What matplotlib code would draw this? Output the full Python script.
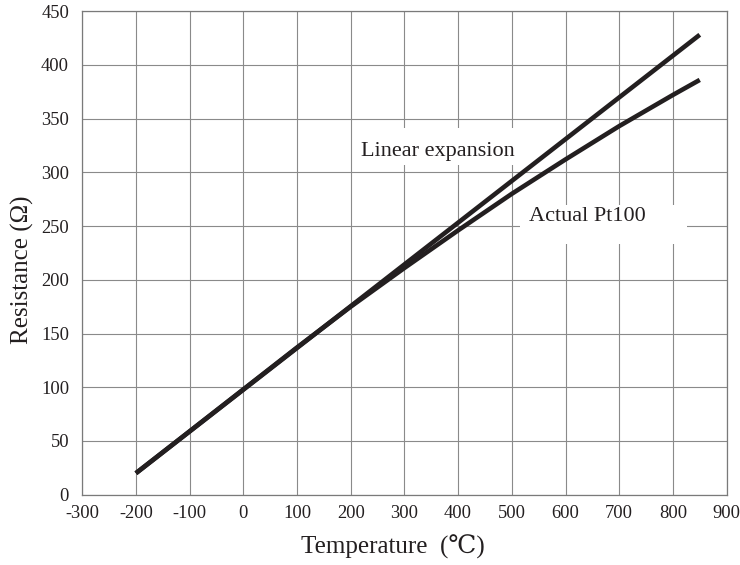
import matplotlib
matplotlib.use("Agg")
import matplotlib.pyplot as plt
from matplotlib.patches import Rectangle

# Data
temps_actual = [-200, -100, 0, 100, 200, 300, 400, 500, 600, 700, 800, 850]
r_actual = [20, 59, 98, 137, 175, 211, 246, 280, 312, 343, 372, 386]
temps_linear = [-200, 850]
r_linear = [20, 428]

xticks = [-300, -200, -100, 0, 100, 200, 300, 400, 500, 600, 700, 800, 900]
yticks = [0, 50, 100, 150, 200, 250, 300, 350, 400, 450]

label_linear = "Linear expansion"
label_actual = "Actual Pt100"

serif = ["Liberation Serif", "DejaVu Serif", "Noto Sans CJK SC"]
plt.rcParams["font.family"] = serif

fig = plt.figure(figsize=(7.4, 5.65), dpi=100)
ax = fig.add_axes([0.1111, 0.1244, 0.8708, 0.8559])

line_color = "#231f20"
grid_color = "#8a8a8a"

ax.plot(temps_linear, r_linear, color=line_color, lw=3.3, solid_capstyle="butt",
        solid_joinstyle="round", zorder=5)
ax.plot(temps_actual, r_actual, color=line_color, lw=3.3, solid_capstyle="butt",
        solid_joinstyle="round", zorder=5)

ax.set_xlim(-300, 900)
ax.set_ylim(0, 450)
ax.set_xticks(xticks)
ax.set_yticks(yticks)
ax.set_xticklabels([str(t) for t in xticks])
ax.set_yticklabels([str(t) for t in yticks])
ax.tick_params(axis="both", length=0, labelsize=13.3, colors="#231f20")
ax.tick_params(axis="y", pad=9.5)
ax.tick_params(axis="x", pad=7.5)

ax.grid(True, color=grid_color, lw=0.8, zorder=0)
ax.set_axisbelow(True)
for s in ax.spines.values():
    s.set_color("#7a7a7a")
    s.set_linewidth(0.9)

# white boxes behind labels (cover grid lines)
ax.add_patch(Rectangle((210, 306.5), 305, 34.5, facecolor="white", edgecolor="none", zorder=2))
ax.add_patch(Rectangle((515, 233), 311, 36.5, facecolor="white", edgecolor="none", zorder=2))

ax.text(362.6, 315, label_linear, ha="center", va="baseline", fontsize=16,
        color="#231f20", zorder=6)
ax.text(641, 255, label_actual, ha="center", va="baseline", fontsize=16,
        color="#231f20", zorder=6)

ax.set_xlabel("Temperature  (\u2103)", fontsize=18, color="#231f20")
ax.xaxis.set_label_coords(0.4814, -0.108)
ax.xaxis.label.set_va("center")
ax.set_ylabel("Resistance (\u03a9)", fontsize=18, color="#231f20")
ax.yaxis.set_label_coords(-0.0934, 0.4646)
ax.yaxis.label.set_va("center")

fig.savefig("out.png", dpi=100)
